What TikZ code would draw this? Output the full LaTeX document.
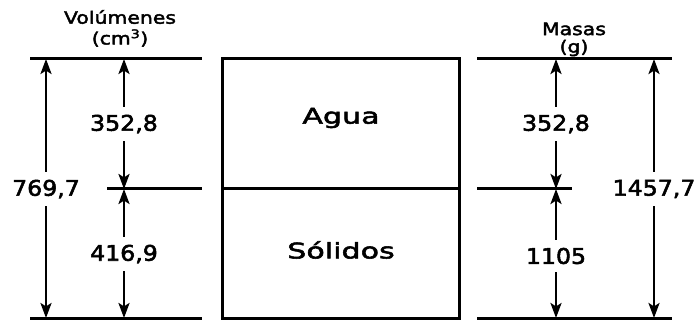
\documentclass[tikz,border=0pt]{standalone}
\usepackage{fontspec}
\newfontfamily\numfont[FakeStretch=1.1,FakeBold=2.5]{DejaVu Sans}
\newfontfamily\wordfont[FakeStretch=1.4,FakeBold=2.5]{DejaVu Sans}
\newfontfamily\ttlfont[FakeStretch=1.2,FakeBold=2.5]{DejaVu Sans}
\usetikzlibrary{arrows.meta}
\tikzset{dimtip/.tip={Stealth[length=15pt,width=11pt,inset=3.5pt]}}
\begin{document}
\begin{tikzpicture}[x=1pt,y=-1pt,
  ln/.style={line width=3pt},
  dim/.style={line width=2.6pt,-dimtip},
  num/.style={font=\numfont\fontsize{21.5}{24}\selectfont,inner xsep=2pt,inner ysep=8pt},
  word/.style={font=\wordfont\fontsize{21.5}{24}\selectfont},
  ttl/.style={font=\ttlfont\fontsize{17}{19}\selectfont,inner sep=1pt}]
\useasboundingbox (0,0) rectangle (695,320);
% titles
\node[ttl] (tv) at (120,17) {Volúmenes};
\node[ttl] (tvu) at (120,38) {(cm\textsuperscript{3})};
\node[ttl] (tm) at (574,29) {Masas};
\node[ttl] (tmu) at (574,48) {(g)};
% left lines
\coordinate (LT1) at (30,59); \coordinate (LT2) at (202,59);
\coordinate (LM1) at (107,189); \coordinate (LM2) at (202,189);
\coordinate (LB1) at (30,318); \coordinate (LB2) at (202,318);
\draw[ln] (LT1) -- (LT2);
\draw[ln] (LM1) -- (LM2);
\draw[ln] (LB1) -- (LB2);
% left labels
\node[num] (v1) at (46,189) {769,7};
\node[num] (v2) at (124,124) {352,8};
\node[num] (v3) at (124,254) {416,9};
\draw[dim] (v1.north) -- (v1 |- LT1);
\draw[dim] (v1.south) -- (v1 |- LB1);
\draw[dim] (v2.north) -- (v2 |- LT1);
\draw[dim] (v2.south) -- (v2 |- LM1);
\draw[dim] (v3.north) -- (v3 |- LM1);
\draw[dim] (v3.south) -- (v3 |- LB1);
% box
\coordinate (BTL) at (222,59); \coordinate (BBR) at (459,318);
\coordinate (BM1) at (222,189); \coordinate (BM2) at (459,189);
\draw[ln] (BTL) rectangle (BBR);
\draw[ln] (BM1) -- (BM2);
\node[word] (agua) at (341,118) {Agua};
\node[word] (sol) at (341,250) {Sólidos};
% right lines
\coordinate (RT1) at (477,59); \coordinate (RT2) at (672,59);
\coordinate (RM1) at (477,189); \coordinate (RM2) at (572,189);
\coordinate (RB1) at (477,318); \coordinate (RB2) at (672,318);
\draw[ln] (RT1) -- (RT2);
\draw[ln] (RM1) -- (RM2);
\draw[ln] (RB1) -- (RB2);
\node[num] (m1) at (556,124) {352,8};
\node[num] (m2) at (556,256) {1105};
\node[num,inner xsep=0pt] (m3) at (654,189) {1457,7};
\draw[dim] (m1.north) -- (m1 |- RT1);
\draw[dim] (m1.south) -- (m1 |- RM1);
\draw[dim] (m2.north) -- (m2 |- RM1);
\draw[dim] (m2.south) -- (m2 |- RB1);
\draw[dim] (m3.north) -- (m3 |- RT1);
\draw[dim] (m3.south) -- (m3 |- RB1);
\end{tikzpicture}
\end{document}
